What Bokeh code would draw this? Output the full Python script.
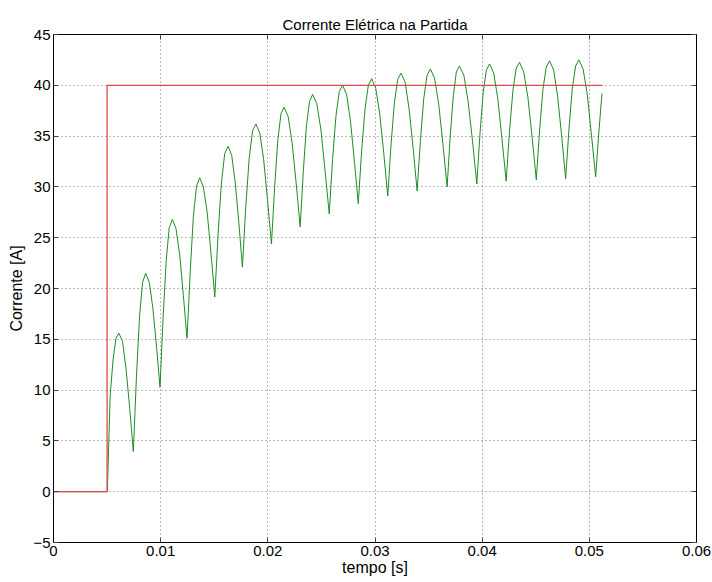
from bokeh.plotting import figure
from bokeh.models import Range1d, LinearAxis, FixedTicker
from bokeh.embed import file_html
from bokeh.resources import INLINE

# ---- data ----
title_text = "Corrente Elétrica na Partida"
x_label = "tempo [s]"
y_label = "Corrente [A]"

x_ticks = [0, 0.01, 0.02, 0.03, 0.04, 0.05, 0.06]
x_tick_labels = ["0", "0.01", "0.02", "0.03", "0.04", "0.05", "0.06"]
y_ticks = [-5, 0, 5, 10, 15, 20, 25, 30, 35, 40, 45]

# reference (step) signal
ref_t = [0.0, 0.005, 0.005, 0.0512]
ref_i = [0.0, 0.0, 40.0, 40.0]

# measured current (green)
cur_t = [
    0.0, 0.00502,
    0.00529, 0.00556, 0.00583, 0.0061, 0.00644, 0.00678, 0.00711, 0.00745,
    0.00774, 0.00803, 0.00831, 0.0086, 0.00894, 0.00927, 0.00961, 0.00994,
    0.01023, 0.01052, 0.0108, 0.01109, 0.01143, 0.01178, 0.01212, 0.01246,
    0.01276, 0.01305, 0.01335, 0.01364, 0.01399, 0.01435, 0.0147, 0.01505,
    0.01536, 0.01567, 0.01598, 0.01629, 0.01663, 0.01696, 0.0173, 0.01763,
    0.01794, 0.01826, 0.01857, 0.01888, 0.01925, 0.01961, 0.01998, 0.02034,
    0.02064, 0.02093, 0.02123, 0.02152, 0.0219, 0.02227, 0.02265, 0.02302,
    0.02331, 0.0236, 0.02389, 0.02418, 0.02457, 0.02496, 0.02534, 0.02573,
    0.02604, 0.02636, 0.02667, 0.02698, 0.02735, 0.02771, 0.02808, 0.02844,
    0.02875, 0.02907, 0.02938, 0.02969, 0.03007, 0.03044, 0.03082, 0.03119,
    0.0315, 0.03181, 0.03212, 0.03243, 0.03281, 0.03318, 0.03356, 0.03393,
    0.03424, 0.03455, 0.03486, 0.03517, 0.03556, 0.03595, 0.03634, 0.03673,
    0.03702, 0.03731, 0.03759, 0.03788, 0.03829, 0.03869, 0.0391, 0.0395,
    0.0398, 0.0401, 0.04039, 0.04069, 0.04108, 0.04147, 0.04185, 0.04224,
    0.04255, 0.04287, 0.04318, 0.04349, 0.04388, 0.04427, 0.04466, 0.04505,
    0.04536, 0.04567, 0.04598, 0.04629, 0.04667, 0.04704, 0.04742, 0.04779,
    0.0481, 0.04841, 0.04872, 0.04903, 0.04942, 0.04981, 0.0502, 0.05059,
    0.05089, 0.05118,
]
cur_i = [
    0.0, 0.0,
    9.5, 13.0, 15.1, 15.6, 14.8, 12.0, 8.2, 3.95,
    11.3, 17.3, 20.6, 21.5, 20.6, 18.1, 14.3, 10.27,
    17.2, 22.8, 26.0, 26.8, 25.9, 23.3, 19.3, 15.1,
    21.7, 27.1, 30.1, 30.9, 30.0, 27.4, 23.4, 19.15,
    25.4, 30.4, 33.3, 34.0, 33.1, 30.4, 26.4, 22.1,
    28.0, 32.8, 35.5, 36.2, 35.3, 32.7, 28.6, 24.4,
    30.05, 34.6, 37.2, 37.85, 36.9, 34.3, 30.3, 26.06,
    31.5, 36.0, 38.4, 39.1, 38.2, 35.6, 31.6, 27.35,
    32.7, 37.0, 39.4, 40.0, 39.1, 36.5, 32.5, 28.35,
    33.5, 37.7, 40.0, 40.65, 39.7, 37.2, 33.3, 29.1,
    34.2, 38.3, 40.6, 41.2, 40.3, 37.7, 33.8, 29.6,
    34.6, 38.7, 41.0, 41.6, 40.7, 38.1, 34.2, 30.0,
    35.0, 39.0, 41.3, 41.9, 41.0, 38.4, 34.5, 30.3,
    35.3, 39.3, 41.5, 42.1, 41.2, 38.6, 34.7, 30.57,
    35.5, 39.5, 41.7, 42.25, 41.3, 38.8, 34.9, 30.7,
    35.6, 39.6, 41.8, 42.4, 41.5, 38.9, 35.0, 30.8,
    35.7, 39.7, 41.9, 42.5, 41.6, 39.1, 35.1, 31.0,
    35.4, 39.2,
]

FONT = "Liberation Sans"

p = figure(
    width=712, height=582,
    x_range=Range1d(0, 0.06), y_range=Range1d(-5, 45),
    output_backend="svg", toolbar_location=None,
    min_border_left=53, min_border_right=16,
    min_border_top=34, min_border_bottom=40,
)
p.background_fill_color = "white"
p.border_fill_color = "white"
p.outline_line_color = "black"
p.outline_line_width = 1

p.title.text = title_text
p.title.align = "center"
p.title.text_font = FONT
p.title.text_font_size = "15px"
p.title.text_font_style = "normal"
p.title.text_color = "black"
p.title.standoff = 4

# lines
p.line(cur_t, cur_i, line_color="#1e8c23", line_width=1.0)
p.line(ref_t, ref_i, line_color="#e04848", line_width=1.3)

# axes
for ax in (p.xaxis[0], p.yaxis[0]):
    ax.major_tick_in = 5
    ax.major_tick_out = 0
    ax.minor_tick_line_color = None
    ax.axis_line_color = "black"
    ax.major_tick_line_color = "#444444"
    ax.major_label_text_font = FONT
    ax.major_label_text_font_size = "15px"
    ax.major_label_text_color = "black"
    ax.axis_label_text_font = FONT
    ax.axis_label_text_font_size = "16px"
    ax.axis_label_text_font_style = "normal"
    ax.axis_label_text_color = "black"

p.xaxis.ticker = FixedTicker(ticks=x_ticks)
p.xaxis.major_label_overrides = {t: l for t, l in zip(x_ticks, x_tick_labels)}
p.yaxis.ticker = FixedTicker(ticks=y_ticks)
p.xaxis.axis_label = x_label
p.yaxis.axis_label = y_label
p.xaxis.major_label_standoff = 3
p.yaxis.major_label_standoff = 3
p.xaxis.axis_label_standoff = 0
p.yaxis.axis_label_standoff = 5

# mirrored tick marks (box style), without labels
top_ax = LinearAxis(ticker=FixedTicker(ticks=x_ticks))
right_ax = LinearAxis(ticker=FixedTicker(ticks=y_ticks))
for ax in (top_ax, right_ax):
    ax.major_tick_in = 5
    ax.major_tick_out = 0
    ax.minor_tick_line_color = None
    ax.major_label_text_font_size = "1px"
    ax.major_label_text_color = None
    ax.major_label_standoff = 0
    ax.axis_line_color = "black"
    ax.major_tick_line_color = "#444444"
p.add_layout(top_ax, "above")
p.add_layout(right_ax, "right")

# grid
p.xgrid.ticker = FixedTicker(ticks=x_ticks)
p.ygrid.ticker = FixedTicker(ticks=y_ticks)
for g in (p.xgrid[0], p.ygrid[0]):
    g.grid_line_color = "#555555"
    g.grid_line_dash = "1 3"
    g.grid_line_width = 1
    g.grid_line_alpha = 0.8

open("out.html", "w").write(file_html(p, INLINE))
